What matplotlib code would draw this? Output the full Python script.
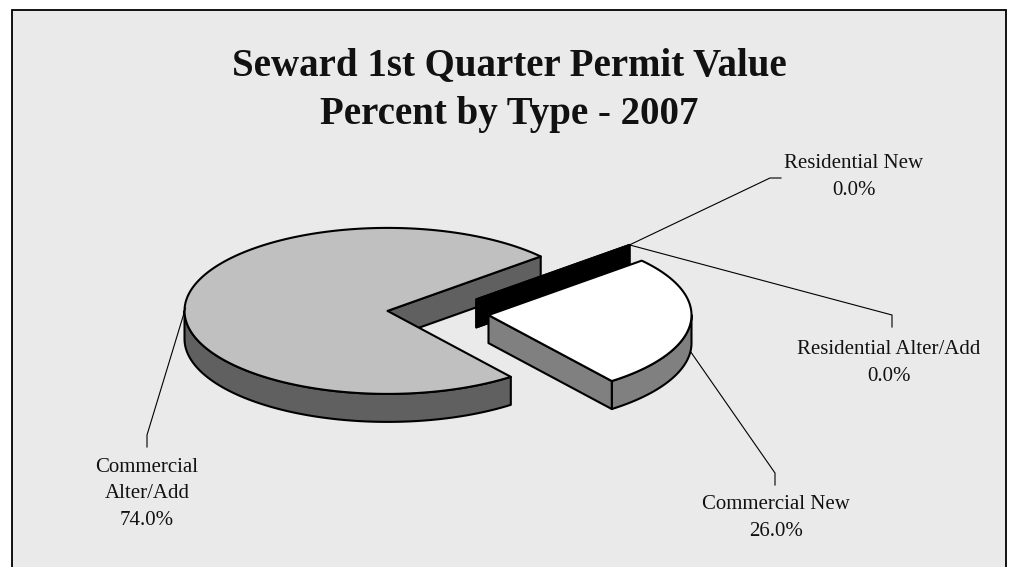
import numpy as np
import matplotlib.pyplot as plt
from matplotlib.patches import Polygon, Rectangle

# permit value shares, first quarter 2007
categories = ["Residential New", "Residential Alter/Add", "Commercial New", "Commercial Alter/Add"]
label_text = ["Residential New", "Residential Alter/Add", "Commercial New", "Commercial\nAlter/Add"]
percents = [0.0, 0.0, 26.0, 74.0]

top_colors = ["#000000", "#000000", "#ffffff", "#c0c0c0"]
side_colors = ["#000000", "#000000", "#808080", "#606060"]

# pie layout (pixels)
CX, CY = 438, 313
RX, RY = 203, 83
DEPTH = 28
EXPLODE = 0.25
START = 41.0   # first slice starts here and runs clockwise

# label layout: text centre, elbow, end of leader, anchor height on the wall
label_pos = [(854, 177), (889, 363), (776, 518), (147, 494)]
elbow = [(770, 178), (892, 315), (775, 473), (147, 435)]
leader_end = [(781, 178), (892, 327), (775, 485), (147, 447)]
anchor_frac = [0.0, 0.0, 1.0, 0.2]

fig = plt.figure(figsize=(10.13, 5.67), dpi=100)
fig.patch.set_facecolor("white")
ax = fig.add_axes([0, 0, 1, 1])
ax.set_xlim(0, 1013)
ax.set_ylim(567, 0)
ax.axis("off")

ax.add_patch(Rectangle((12, 10), 994, 570, facecolor="#eaeaea", edgecolor="black", lw=1.3))

FONT = "Liberation Serif"
ax.text(509, 90, "Seward 1st Quarter Permit Value\nPercent by Type - 2007",
        ha="center", va="center", fontsize=28, fontweight="bold",
        family=FONT, linespacing=1.45, color="#111111")


def pt(ox, oy, th, dz=0.0):
    r = np.radians(th)
    return (ox + RX * np.cos(r), oy - RY * np.sin(r) + dz)


def wall(ox, oy, t0, t1):
    ts = np.linspace(t0, t1, 80)
    top = [pt(ox, oy, t) for t in ts]
    bot = [pt(ox, oy, t, DEPTH) for t in ts[::-1]]
    return top + bot


def radial(ox, oy, th):
    a = (ox, oy)
    b = pt(ox, oy, th)
    return [a, b, (b[0], b[1] + DEPTH), (ox, oy + DEPTH)]


total = sum(percents)
slices = []
cur = START
for i, v in enumerate(percents):
    span = v / total * 360
    a_start, a_end = cur, cur - span
    cur = a_end
    mid = np.radians((a_start + a_end) / 2)
    ox = CX + EXPLODE * RX * np.cos(mid)
    oy = CY - EXPLODE * RY * np.sin(mid)
    slices.append((a_start, a_end, ox, oy))

edge = dict(edgecolor="black", lw=1.5, joinstyle="round")
draw_order = [3, 1, 0, 2]
for i in draw_order:
    a_start, a_end, ox, oy = slices[i]
    # front part of the outer rim
    for k in range(-2, 2):
        lo = max(a_end, -180 + 360 * k)
        hi = min(a_start, 360 * k)
        if hi > lo:
            ax.add_patch(Polygon(wall(ox, oy, lo, hi), facecolor=side_colors[i], **edge))
    # cut faces that face the viewer
    if np.cos(np.radians(a_end)) > 0:
        ax.add_patch(Polygon(radial(ox, oy, a_end), facecolor=side_colors[i], **edge))
    if np.cos(np.radians(a_start)) < 0:
        ax.add_patch(Polygon(radial(ox, oy, a_start), facecolor=side_colors[i], **edge))
    if a_start - a_end > 0:
        ts = np.linspace(a_start, a_end, 200)
        face = [(ox, oy)] + [pt(ox, oy, t) for t in ts]
        ax.add_patch(Polygon(face, facecolor=top_colors[i], **edge))

# data labels with leader lines
for i, name in enumerate(label_text):
    a_start, a_end, ox, oy = slices[i]
    mid = (a_start + a_end) / 2
    anchor = pt(ox, oy, mid, anchor_frac[i] * DEPTH)
    xs = [anchor[0], elbow[i][0], leader_end[i][0]]
    ys = [anchor[1], elbow[i][1], leader_end[i][1]]
    ax.plot(xs, ys, color="black", lw=0.8)
    ax.text(label_pos[i][0], label_pos[i][1], f"{name}\n{percents[i]:.1f}%",
            ha="center", va="center", fontsize=15, family=FONT,
            linespacing=1.55, color="#111111")

fig.savefig("out.png", dpi=100)
